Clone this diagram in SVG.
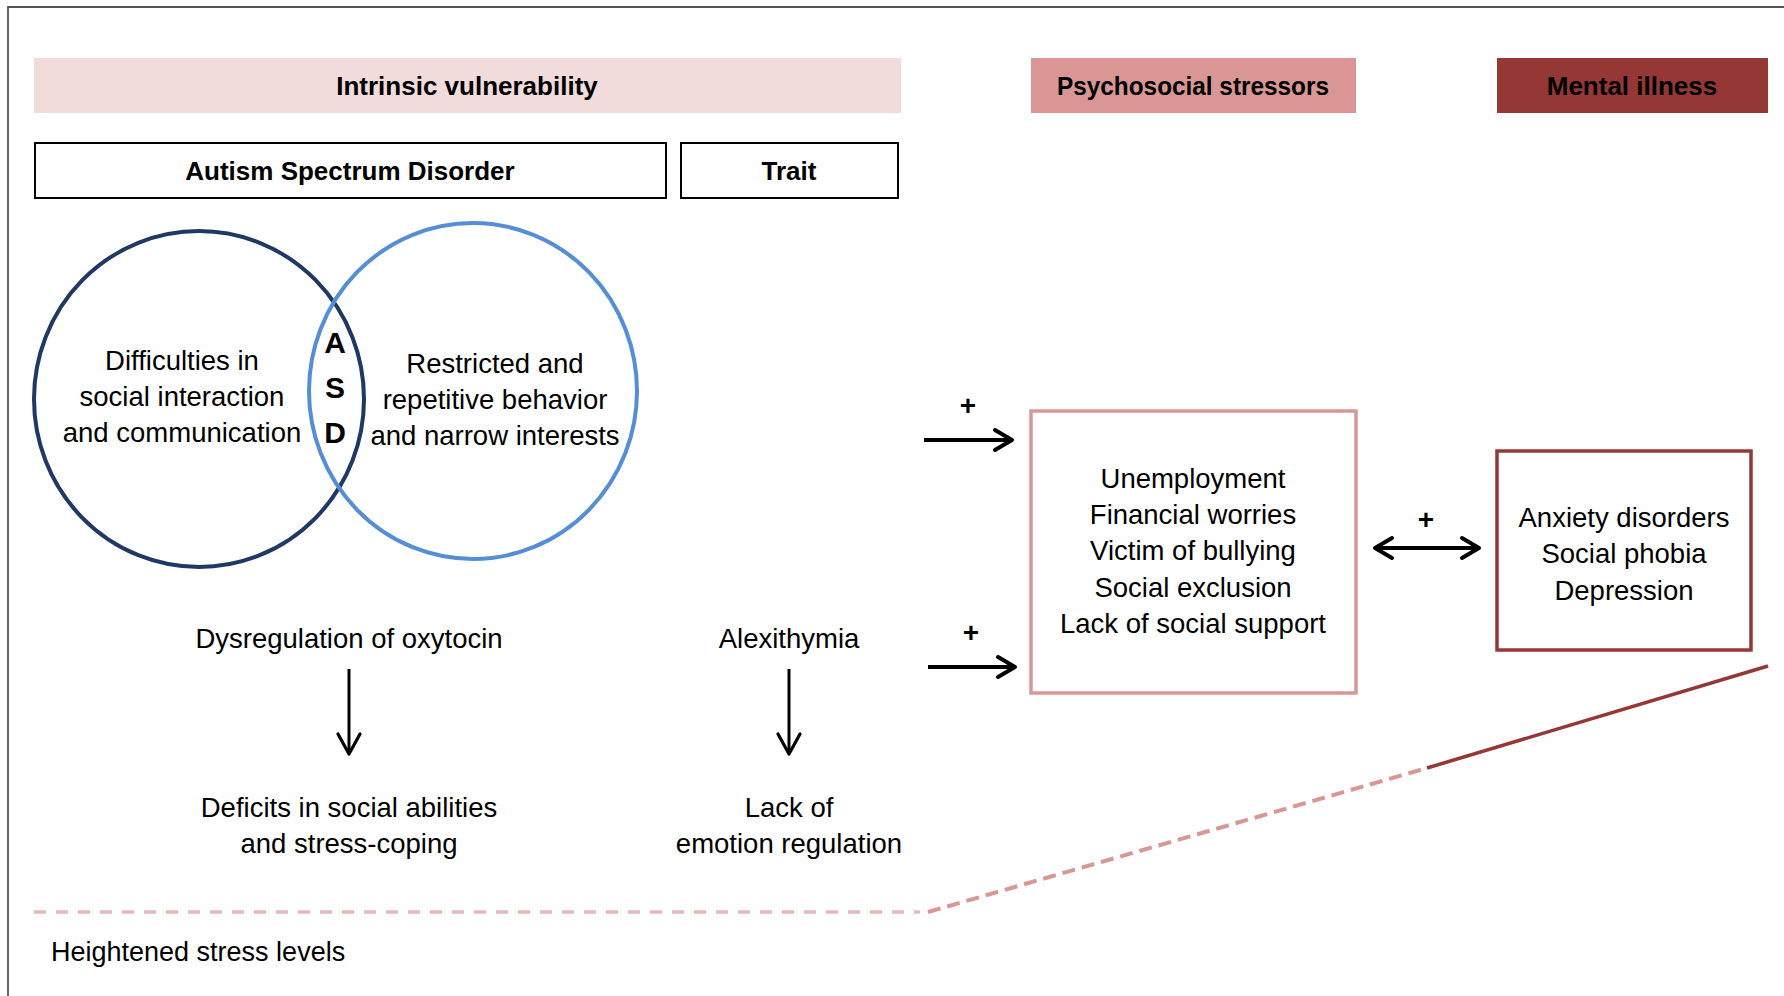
<svg xmlns="http://www.w3.org/2000/svg" width="1784" height="996" viewBox="0 0 1784 996">
  <style>
    text { font-family: "Liberation Sans", Arial, sans-serif; fill: #000; }
    .hdr { font-size: 26px; font-weight: bold; text-anchor: middle; }
    .body { font-size: 27.5px; text-anchor: middle; }
    .asd { font-size: 30px; font-weight: bold; text-anchor: middle; }
    .plus { font-size: 28px; font-weight: bold; text-anchor: middle; }
    .arrow { stroke: #000; fill: none; }
  </style>
  <defs>
    <marker id="chev" viewBox="-22 -14 28 28" refX="0" refY="0" markerWidth="28" markerHeight="28" markerUnits="userSpaceOnUse" orient="auto-start-reverse">
      <path d="M-17,-10 L0,0 L-17,10" fill="none" stroke="#000" stroke-width="4" stroke-linecap="round" stroke-linejoin="round"/>
    </marker>
    <marker id="chevThin" viewBox="-24 -14 30 28" refX="0" refY="0" markerWidth="30" markerHeight="28" markerUnits="userSpaceOnUse" orient="auto">
      <path d="M-20,-11 L0,0 L-20,11" fill="none" stroke="#000" stroke-width="3.2" stroke-linecap="round" stroke-linejoin="round"/>
    </marker>
  </defs>

  <rect width="1784" height="996" fill="#fff"/>

  <!-- frame -->
  <path d="M8,996 L8,7 L1784,7" fill="none" stroke="#555" stroke-width="1.8"/>

  <!-- column headers -->
  <g id="hdr-intrinsic">
    <rect x="34" y="58" width="867" height="55" fill="#f2dcdb"/>
    <text class="hdr" x="467" y="95">Intrinsic vulnerability</text>
  </g>
  <g id="hdr-stressors">
    <rect x="1031" y="58" width="325" height="55" fill="#d99694"/>
    <text class="hdr" x="1193" y="95" textLength="272" lengthAdjust="spacingAndGlyphs">Psychosocial stressors</text>
  </g>
  <g id="hdr-illness">
    <rect x="1497" y="58" width="271" height="55" fill="#953735"/>
    <text class="hdr" x="1632" y="95">Mental illness</text>
  </g>

  <g id="box-asd">
    <rect x="35" y="143" width="631" height="55" fill="#fff" stroke="#000" stroke-width="2"/>
    <text class="hdr" x="350" y="180">Autism Spectrum Disorder</text>
  </g>
  <g id="box-trait">
    <rect x="681" y="143" width="217" height="55" fill="#fff" stroke="#000" stroke-width="2"/>
    <text class="hdr" x="789" y="180">Trait</text>
  </g>

  <!-- Venn diagram of core ASD features -->
  <g id="venn-social">
    <ellipse cx="199" cy="399" rx="165" ry="168" fill="none" stroke="#1f3864" stroke-width="4"/>
    <text class="body" x="182" y="370">Difficulties in</text>
    <text class="body" x="182" y="406">social interaction</text>
    <text class="body" x="182" y="442">and communication</text>
  </g>
  <g id="venn-restricted">
    <ellipse cx="473" cy="391" rx="164" ry="168" fill="none" stroke="#558ed5" stroke-width="4"/>
    <text class="body" x="495" y="373">Restricted and</text>
    <text class="body" x="495" y="409">repetitive behavior</text>
    <text class="body" x="495" y="445">and narrow interests</text>
  </g>
  <g id="venn-asd">
    <text class="asd" x="335" y="353">A</text>
    <text class="asd" x="335" y="398">S</text>
    <text class="asd" x="335" y="443">D</text>
  </g>

  <!-- mechanisms -->
  <g id="oxytocin">
    <text class="body" x="349" y="648">Dysregulation of oxytocin</text>
  </g>
  <g id="social-deficits">
    <text class="body" x="349" y="817">Deficits in social abilities</text>
    <text class="body" x="349" y="853">and stress-coping</text>
  </g>
  <g id="alexithymia">
    <text class="body" x="789" y="648">Alexithymia</text>
  </g>
  <g id="emotion-regulation">
    <text class="body" x="789" y="817">Lack of</text>
    <text class="body" x="789" y="853">emotion regulation</text>
  </g>

  <g id="stressors">
    <rect x="1031" y="411" width="325" height="282" fill="#fff" stroke="#d99694" stroke-width="3.5"/>
    <text class="body" x="1193" y="488">Unemployment</text>
    <text class="body" x="1193" y="524">Financial worries</text>
    <text class="body" x="1193" y="560">Victim of bullying</text>
    <text class="body" x="1193" y="597">Social exclusion</text>
    <text class="body" x="1193" y="633">Lack of social support</text>
  </g>

  <g id="illness">
    <rect x="1497" y="451" width="254" height="199" fill="#fff" stroke="#953735" stroke-width="3.5"/>
    <text class="body" x="1624" y="527">Anxiety disorders</text>
    <text class="body" x="1624" y="563">Social phobia</text>
    <text class="body" x="1624" y="600">Depression</text>
  </g>

  <g id="stress-level">
    <text x="51" y="961" font-size="27">Heightened stress levels</text>
  </g>

  <!-- connectors -->
  <g id="connectors">
    <line class="arrow" x1="349" y1="669" x2="349" y2="754" stroke-width="3" marker-end="url(#chevThin)"/>
    <line class="arrow" x1="789" y1="669" x2="789" y2="754" stroke-width="3" marker-end="url(#chevThin)"/>

    <line class="arrow" x1="924" y1="440" x2="1012" y2="440" stroke-width="4" marker-end="url(#chev)"/>
    <text class="plus" x="968" y="415">+</text>

    <line class="arrow" x1="928" y1="667" x2="1015" y2="667" stroke-width="4" marker-end="url(#chev)"/>
    <text class="plus" x="971" y="642">+</text>

    <line class="arrow" x1="1375" y1="548" x2="1479" y2="548" stroke-width="4" marker-start="url(#chev)" marker-end="url(#chev)"/>
    <text class="plus" x="1426" y="529">+</text>

    <!-- stress trajectory -->
    <line x1="34" y1="912" x2="920" y2="912" stroke="#e6b9b8" stroke-width="3.5" stroke-dasharray="12 10"/>
    <line x1="928" y1="912" x2="1427" y2="768" stroke="#d99694" stroke-width="4" stroke-dasharray="13 7"/>
    <line x1="1427" y1="768" x2="1768" y2="666" stroke="#953735" stroke-width="3.5"/>
  </g>
</svg>
